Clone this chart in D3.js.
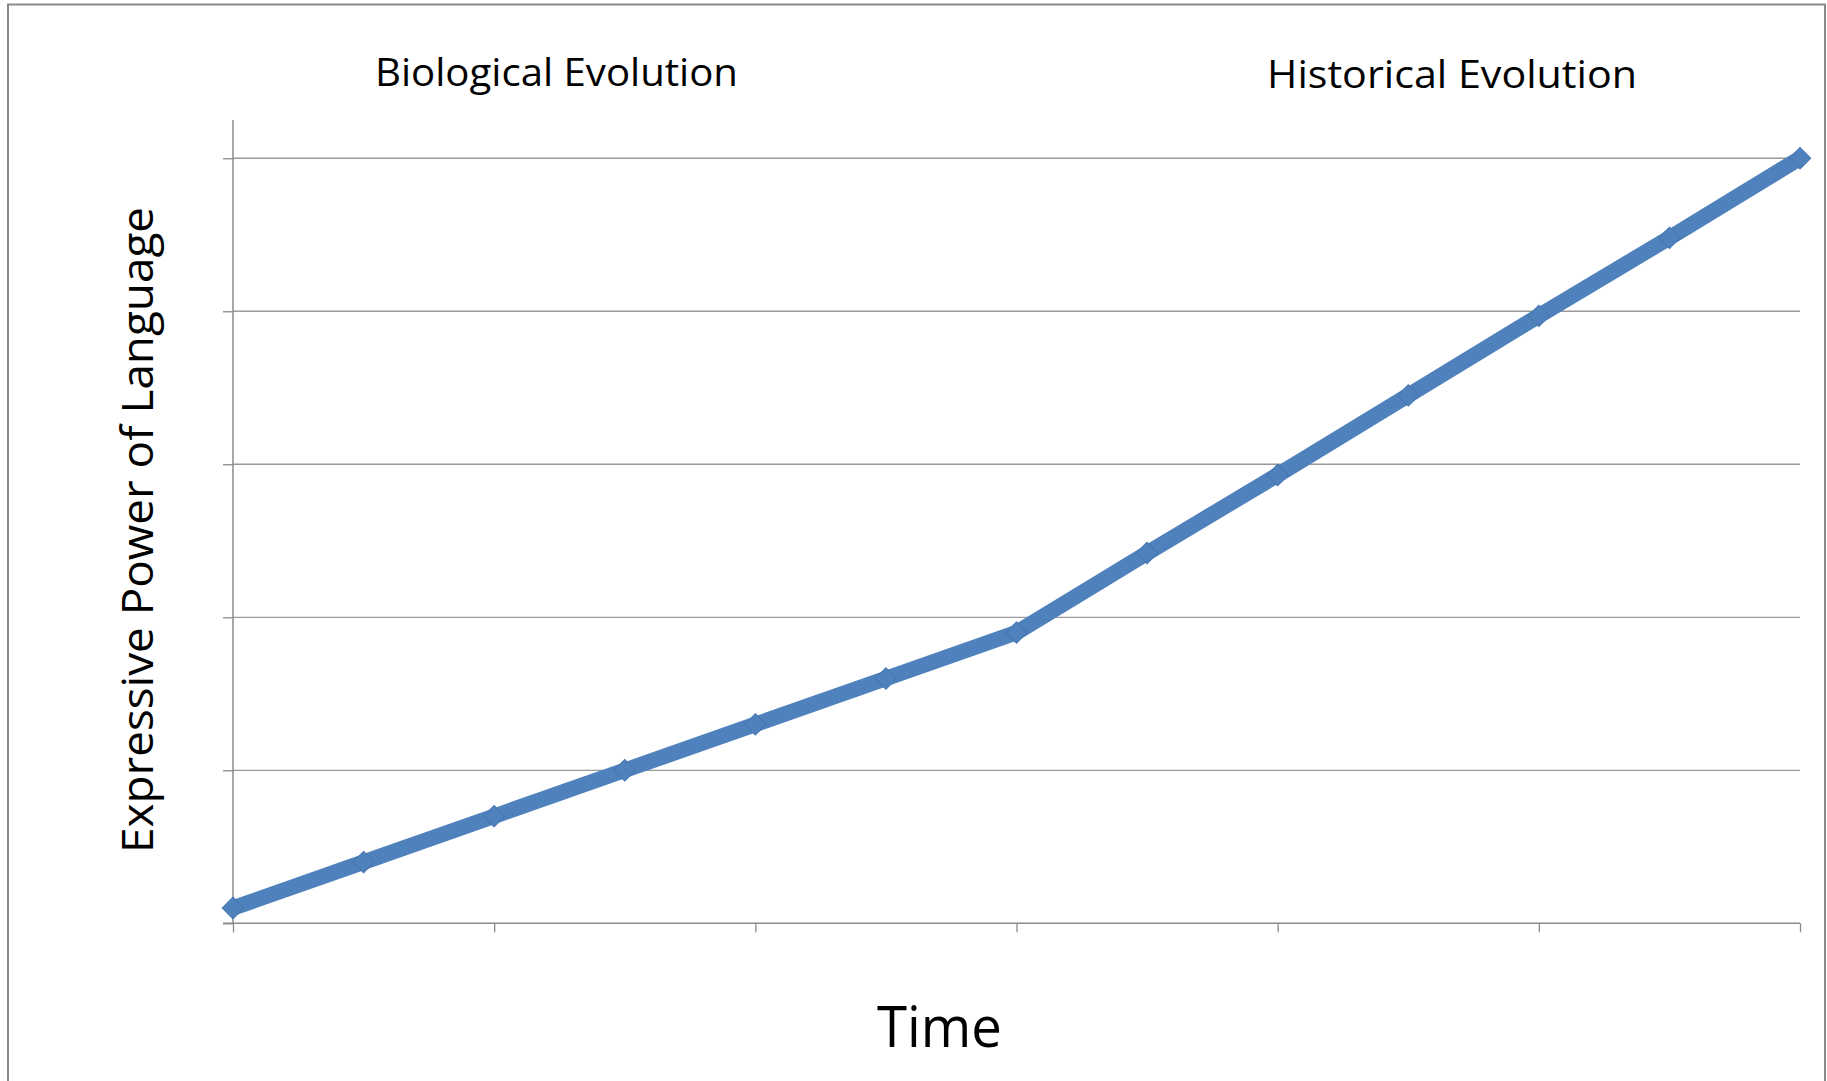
<!DOCTYPE html>
<html>
<head>
<meta charset="utf-8">
<script src="https://cdn.jsdelivr.net/npm/d3@7"></script>
<style>
  html, body { margin: 0; padding: 0; background: #fff; }
  svg { display: block; }
  text { font-family: "Open Sans", "Noto Sans", sans-serif; fill: #000; }
</style>
</head>
<body>
<svg id="chart" width="1827" height="1081"></svg>
<script>
// ---- data ----
const timeSteps = [0, 1, 2, 3, 4, 5, 6, 7, 8, 9, 10, 11, 12];
const expressivePower = [0.1, 0.4, 0.7, 1.0, 1.3, 1.6, 1.9, 2.42, 2.93, 3.45, 3.97, 4.48, 5.0];
const yTicks = [0, 1, 2, 3, 4, 5];
const xTicks = [0, 2, 4, 6, 8, 10, 12];
const annotations = ["Biological Evolution", "Historical Evolution"];
const xTitle = "Time";
const yTitle = "Expressive Power of Language";

// ---- layout ----
const plot = { left: 233, right: 1800, top: 120, bottom: 923.3 };
const svg = d3.select("#chart");

// outer frame
svg.append("rect")
  .attr("x", 8).attr("y", 4.5)
  .attr("width", 1817).attr("height", 1100)
  .attr("fill", "#fff").attr("stroke", "#8a8a8a").attr("stroke-width", 2);

const x = d3.scaleLinear().domain([0, 12]).range([plot.left, plot.right]);
const y = d3.scaleLinear().domain([0, 5.25]).range([plot.bottom, plot.top]);

// gridlines
svg.append("g")
  .selectAll("line").data(yTicks.filter(d => d > 0)).join("line")
  .attr("x1", plot.left).attr("x2", plot.right)
  .attr("y1", d => y(d)).attr("y2", d => y(d))
  .attr("stroke", "#9a9a9a").attr("stroke-width", 1.3);

// y axis
const yAxis = d3.axisLeft(y).tickValues(yTicks).tickSize(10).tickFormat("");
const gy = svg.append("g").attr("transform", `translate(${plot.left},0)`).call(yAxis);
gy.select(".domain").attr("stroke", "#8a8a8a").attr("stroke-width", 1.5)
  .attr("d", `M0,${plot.top}V${plot.bottom}`);
gy.selectAll(".tick line").attr("stroke", "#8a8a8a").attr("stroke-width", 1.3);

// x axis
const xAxis = d3.axisBottom(x).tickValues(xTicks).tickSize(9).tickFormat("");
const gx = svg.append("g").attr("transform", `translate(0,${plot.bottom})`).call(xAxis);
gx.select(".domain").attr("stroke", "#8a8a8a").attr("stroke-width", 1.5)
  .attr("d", `M${plot.left - 10},0H${plot.right}`);
gx.selectAll(".tick line").attr("stroke", "#8a8a8a").attr("stroke-width", 1.3);

// line
const data = timeSteps.map((t, i) => ({ t, v: expressivePower[i] }));
const line = d3.line().x(d => x(d.t)).y(d => y(d.v));
svg.append("path").datum(data)
  .attr("d", line)
  .attr("fill", "none")
  .attr("stroke", "#4F81BD")
  .attr("stroke-width", 15.5)
  .attr("stroke-linejoin", "round");

// diamond markers
const diamond = d3.symbol().type(d3.symbolSquare).size(230);
svg.append("g").selectAll("path").data(data).join("path")
  .attr("d", diamond)
  .attr("transform", d => `translate(${x(d.t)},${y(d.v)}) rotate(45)`)
  .attr("fill", "#4F81BD")
  .attr("stroke", "#4677b0").attr("stroke-width", 1);

// annotation texts
svg.append("text").text(annotations[0])
  .attr("x", 375).attr("y", 86)
  .attr("font-size", 38)
  .attr("textLength", 363).attr("lengthAdjust", "spacingAndGlyphs");
svg.append("text").text(annotations[1])
  .attr("x", 1267).attr("y", 88)
  .attr("font-size", 38)
  .attr("textLength", 370).attr("lengthAdjust", "spacingAndGlyphs");

// axis titles
svg.append("text").text(xTitle)
  .attr("x", 877).attr("y", 1047)
  .attr("font-size", 57)
  .attr("textLength", 125).attr("lengthAdjust", "spacingAndGlyphs");

svg.append("text").text(yTitle)
  .attr("transform", "translate(153,853) rotate(-90)")
  .attr("font-size", 44)
  .attr("textLength", 646).attr("lengthAdjust", "spacingAndGlyphs");
</script>
</body>
</html>
